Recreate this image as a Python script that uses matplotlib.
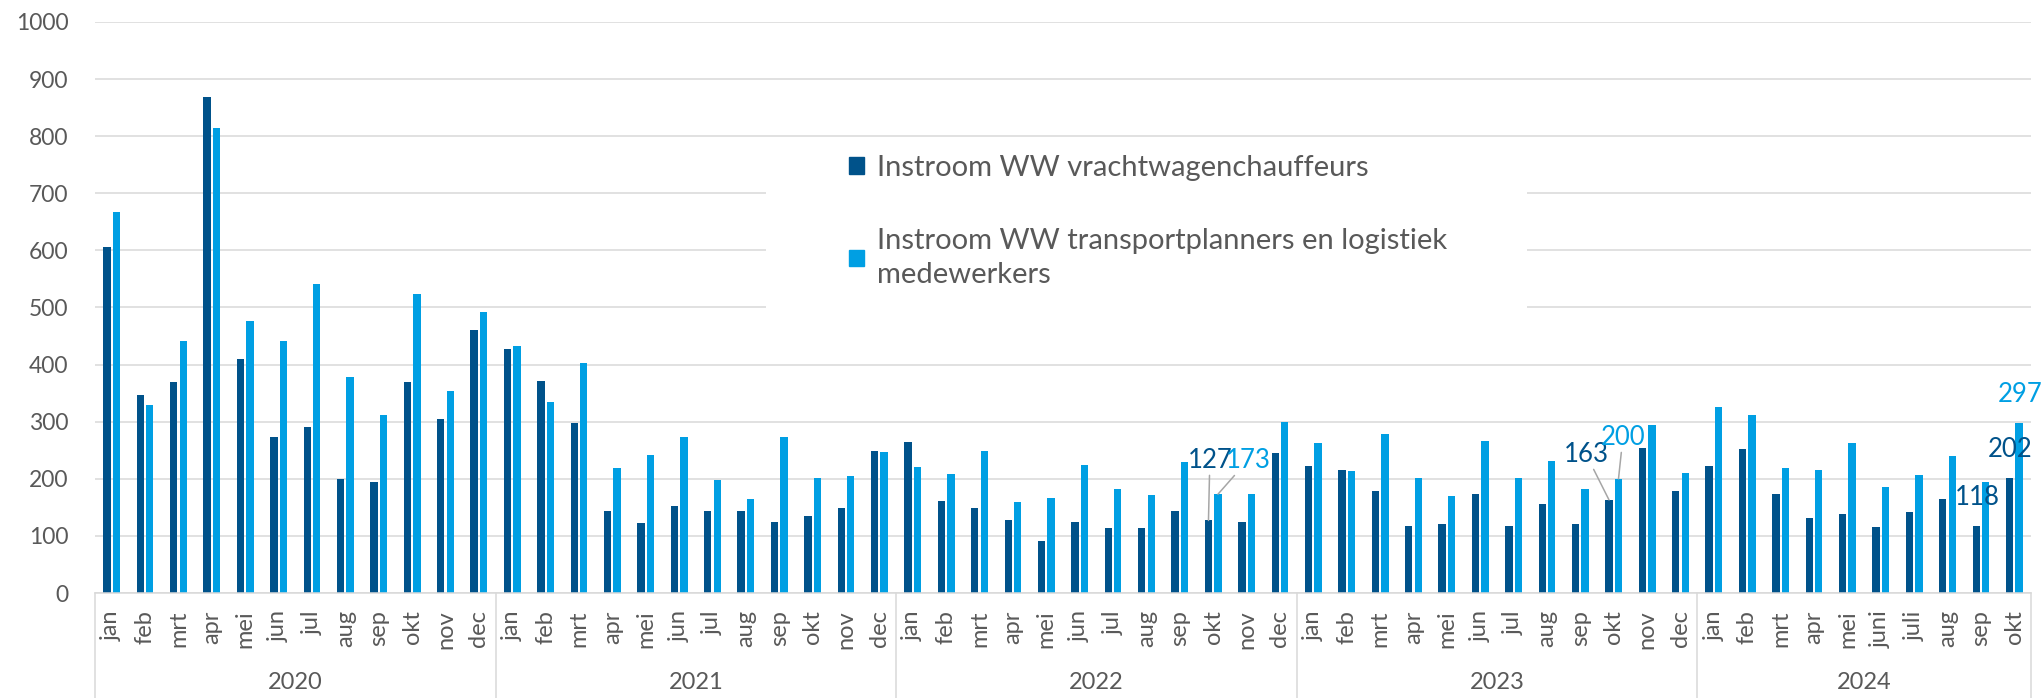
import numpy as np
import matplotlib.pyplot as plt
import matplotlib.transforms as mtransforms
from matplotlib.patches import Patch, Rectangle

plt.rcParams['font.family'] = ['Lato', 'DejaVu Sans']

# data
years = ['2020', '2021', '2022', '2023', '2024']
months_full = ['jan', 'feb', 'mrt', 'apr', 'mei', 'jun', 'jul', 'aug', 'sep', 'okt', 'nov', 'dec']
months_2024 = ['jan', 'feb', 'mrt', 'apr', 'mei', 'juni', 'juli', 'aug', 'sep', 'okt']
month_labels = months_full * 4 + months_2024
months_per_year = [12, 12, 12, 12, 10]

chauffeurs = [606, 347, 369, 868, 410, 273, 291, 200, 195, 369, 304, 461,
              427, 371, 298, 144, 122, 153, 143, 143, 125, 134, 149, 249,
              265, 161, 149, 127, 91, 124, 113, 113, 144, 127, 124, 246,
              223, 216, 178, 118, 120, 173, 118, 156, 120, 163, 254, 178,
              223, 252, 173, 132, 139, 116, 141, 165, 118, 202]
planners = [668, 330, 442, 814, 476, 442, 541, 378, 311, 524, 354, 492,
            433, 335, 402, 219, 241, 274, 198, 165, 273, 202, 205, 247,
            221, 208, 248, 160, 166, 225, 182, 171, 229, 173, 174, 300,
            263, 214, 278, 202, 170, 267, 201, 232, 183, 200, 294, 211,
            325, 311, 219, 216, 263, 186, 206, 240, 194, 297]

label_chauffeurs = 'Instroom WW vrachtwagenchauffeurs'
label_planners = 'Instroom WW transportplanners en logistiek\nmedewerkers'

dark = '#00528A'
light = '#009FE3'
grey_text = '#595959'
grid_col = '#D9D9D9'

fig = plt.figure(figsize=(20.44, 6.98), dpi=100)
ax = fig.add_axes([95 / 2044, 105 / 698, 1936 / 2044, 571 / 698])

x = np.arange(len(month_labels))
w = 0.22
off = 0.142
bars_d = ax.bar(x - off, chauffeurs, w, color=dark, zorder=2)
bars_l = ax.bar(x + off, planners, w, color=light, zorder=2)

ax.set_xlim(-0.5, len(month_labels) - 0.5)
ax.set_ylim(0, 1000)
ax.set_yticks(range(0, 1001, 100))
ax.yaxis.grid(True, color=grid_col, linewidth=1.1)
ax.set_axisbelow(True)
for s in ['top', 'right', 'left']:
    ax.spines[s].set_visible(False)
ax.spines['bottom'].set_color(grid_col)
ax.spines['bottom'].set_linewidth(1.1)
ax.tick_params(axis='y', length=0, pad=19, labelsize=16.5, labelcolor=grey_text)
ax.set_xticks(x)
ax.set_xticklabels(month_labels, rotation=90)
ax.tick_params(axis='x', length=0, pad=12.5, labelsize=17, labelcolor=grey_text)

# year groups below the month labels
trans = mtransforms.blended_transform_factory(ax.transData, ax.transAxes)
start = 0
bounds = [-0.5]
for yr, n in zip(years, months_per_year):
    ax.text(start + (n - 1) / 2, -0.156, yr, transform=trans, ha='center', va='center',
            fontsize=17, color=grey_text)
    start += n
    bounds.append(start - 0.5)
for b in bounds:
    ax.plot([b, b], [0, -0.19], transform=trans, clip_on=False, color=grid_col, lw=1.1)

# data labels
def label(bar, value, color, dx, dy, leader):
    bx = bar.get_x() + bar.get_width() / 2
    props = dict(arrowstyle='-', color='#A6A6A6', lw=1.1, shrinkA=0, shrinkB=0) if leader else None
    ax.annotate(str(value), xy=(bx, value), xytext=(dx, dy), textcoords='offset points',
                ha='center', va='center', fontsize=18.5, color=color, arrowprops=props,
                annotation_clip=False)

label(bars_d[33], chauffeurs[33], dark, 1, 43.5, True)
label(bars_l[33], planners[33], light, 21.6, 24.5, True)
label(bars_d[45], chauffeurs[45], dark, -16.6, 33, True)
label(bars_l[45], planners[45], light, 3.2, 30, True)
label(bars_d[56], chauffeurs[56], dark, 0.7, 20.6, False)
label(bars_d[57], chauffeurs[57], dark, 0.4, 20.6, False)
label(bars_l[57], planners[57], light, 0.7, 21, False)

# white legend area over the gridlines
ax.add_patch(Rectangle((766 / 2044, (698 - 362) / 698), 761 / 2044, 222 / 698,
                       transform=fig.transFigure, facecolor='white', edgecolor='none', zorder=1))
handles = [Patch(color=dark, label=label_chauffeurs), Patch(color=light, label=label_planners)]
leg = fig.legend(handles=handles, loc='upper left', bbox_to_anchor=(849 / 2044, (698 - 155) / 698),
                 frameon=False, fontsize=21, handlelength=0.5, handleheight=0.5,
                 handletextpad=0.45, borderpad=0, borderaxespad=0, labelspacing=1.6)
for t in leg.get_texts():
    t.set_color(grey_text)
    t.set_linespacing(1.4)

fig.savefig('out.png', dpi=100)
